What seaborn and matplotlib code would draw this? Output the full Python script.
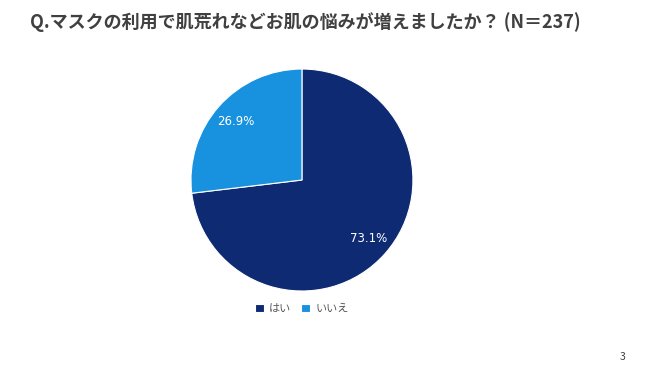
import matplotlib.pyplot as plt
import seaborn as sns

sns.set_theme(style="white")
plt.rcParams['font.family'] = ['Noto Sans CJK JP', 'DejaVu Sans']

# データ
labels = ['はい', 'いいえ']
values = [73.1, 26.9]
colors = ['#0e2a72', '#1892de']

title = 'Q.マスクの利用で肌荒れなどお肌の悩みが増えましたか？ (N＝237)'

fig = plt.figure(figsize=(6.5, 3.65), dpi=100)
fig.patch.set_facecolor('white')

ax = fig.add_axes([0.2938, 0.2027, 0.3415, 0.6082])
wedges, texts, autotexts = ax.pie(
    values, colors=colors, startangle=90, counterclock=False,
    autopct='%.1f%%', pctdistance=0.8,
    wedgeprops=dict(edgecolor='white', linewidth=0.8),
    textprops=dict(color='white', fontsize=8.5, family=['DejaVu Sans']))
ax.set_xlim(-1, 1)
ax.set_ylim(-1, 1)
ax.set_aspect('equal')

fig.text(30 / 650, 1 - 22 / 365, title, fontsize=13, fontweight='bold',
         color='#404040', ha='left', va='center')

leg = fig.legend(wedges, labels, loc='center', bbox_to_anchor=(302 / 650, 1 - 309 / 365),
                 ncol=2, frameon=False, fontsize=8, handlelength=0.75, handleheight=0.75,
                 handletextpad=0.5, columnspacing=0.9)
for t in leg.get_texts():
    t.set_color('#595959')

fig.text(623 / 650, 1 - 357 / 365, '3', fontsize=7.5, color='#404040', ha='center', va='center')

fig.savefig('out.png', dpi=100)
